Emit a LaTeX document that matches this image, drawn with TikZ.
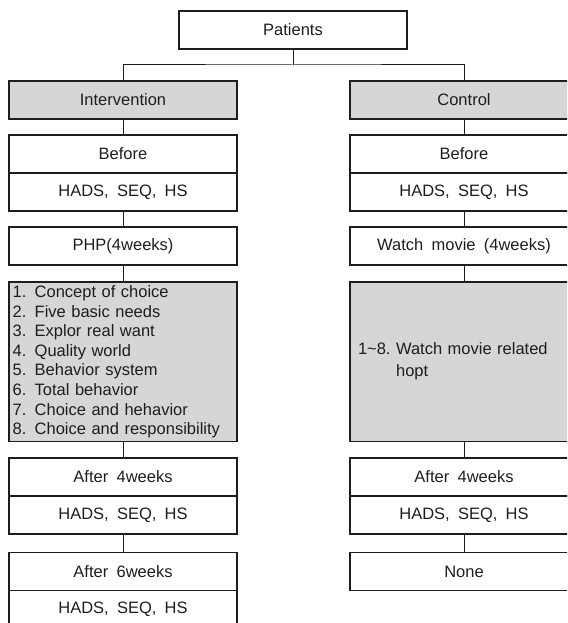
\documentclass[tikz,border=0pt]{standalone}
\usepackage{fontspec}
\setmainfont{Liberation Sans}[WordSpace=1.8]
\usetikzlibrary{positioning}
\definecolor{boxgray}{HTML}{D6D6D6}
\definecolor{ink}{HTML}{1E1E1E}
\tikzset{
 stage/.style={draw=ink, line width=1.8pt, outer sep=0pt, inner sep=0pt, minimum width=228pt, minimum height=38pt, text=ink, font=\fontsize{16.5}{19.6}\selectfont},
 group/.style={stage, fill=boxgray},
 sessions/.style={group, minimum height=159.5pt, align=left},
 link/.style={draw=ink, line width=1pt}
}
\begin{document}
\begin{tikzpicture}[x=1pt,y=-1pt]
 \useasboundingbox (0,0) rectangle (567,623);
 \clip (0,0) rectangle (567,623);

 \node[stage] (pat) at (293,30) {Patients};
 \coordinate (fork) at (293,65);

 % intervention group
 \node[group] (int) at (123,100) {Intervention};
 \node[stage, below=16pt of int] (ib) {Before};
 \node[stage, below=0pt of ib] (ib2) {HADS, SEQ, HS};
 \node[stage, below=16pt of ib2] (php) {PHP(4weeks)};
 \node[sessions, text width=220.6pt, inner xsep=3.7pt, below=17pt of php] (plist) {1. Concept of choice\\2. Five basic needs\\3. Explor real want\\4. Quality world\\5. Behavior system\\6. Total behavior\\7. Choice and hehavior\\8. Choice and responsibility};
 \node[stage, below=16.5pt of plist] (ia4) {After 4weeks};
 \node[stage, below=0pt of ia4] (ia4m) {HADS, SEQ, HS};
 \node[stage, below=18.5pt of ia4m] (ia6) {After 6weeks};
 \node[stage, below=0pt of ia6] (ia6m) {HADS, SEQ, HS};

 % control group
 \node[group] (ctl) at (464,100) {Control};
 \node[stage, below=16pt of ctl] (cb) {Before};
 \node[stage, below=0pt of cb] (cb2) {HADS, SEQ, HS};
 \node[stage, below=16pt of cb2] (mov) {Watch movie (4weeks)};
 \node[sessions, text width=212pt, inner xsep=8pt, below=17pt of mov] (clist) {\begin{tabular}{@{}l@{\ }l@{}}1\textasciitilde8.&Watch movie related\\[2pt]&hopt\end{tabular}};
 \node[stage, below=16.5pt of clist] (ca4) {After 4weeks};
 \node[stage, below=0pt of ca4] (ca4m) {HADS, SEQ, HS};
 \node[stage, below=18.5pt of ca4m] (none) {None};

 \draw[link] (pat) -- (fork);
 \draw[link] (int) |- (fork) -| (ctl);
 \foreach \a/\b in {int/ib, ib2/php, php/plist, plist/ia4, ia4m/ia6, ctl/cb, cb2/mov, mov/clist, clist/ca4, ca4m/none}
  \draw[link] (\a) -- (\b);

\end{tikzpicture}
\end{document}
